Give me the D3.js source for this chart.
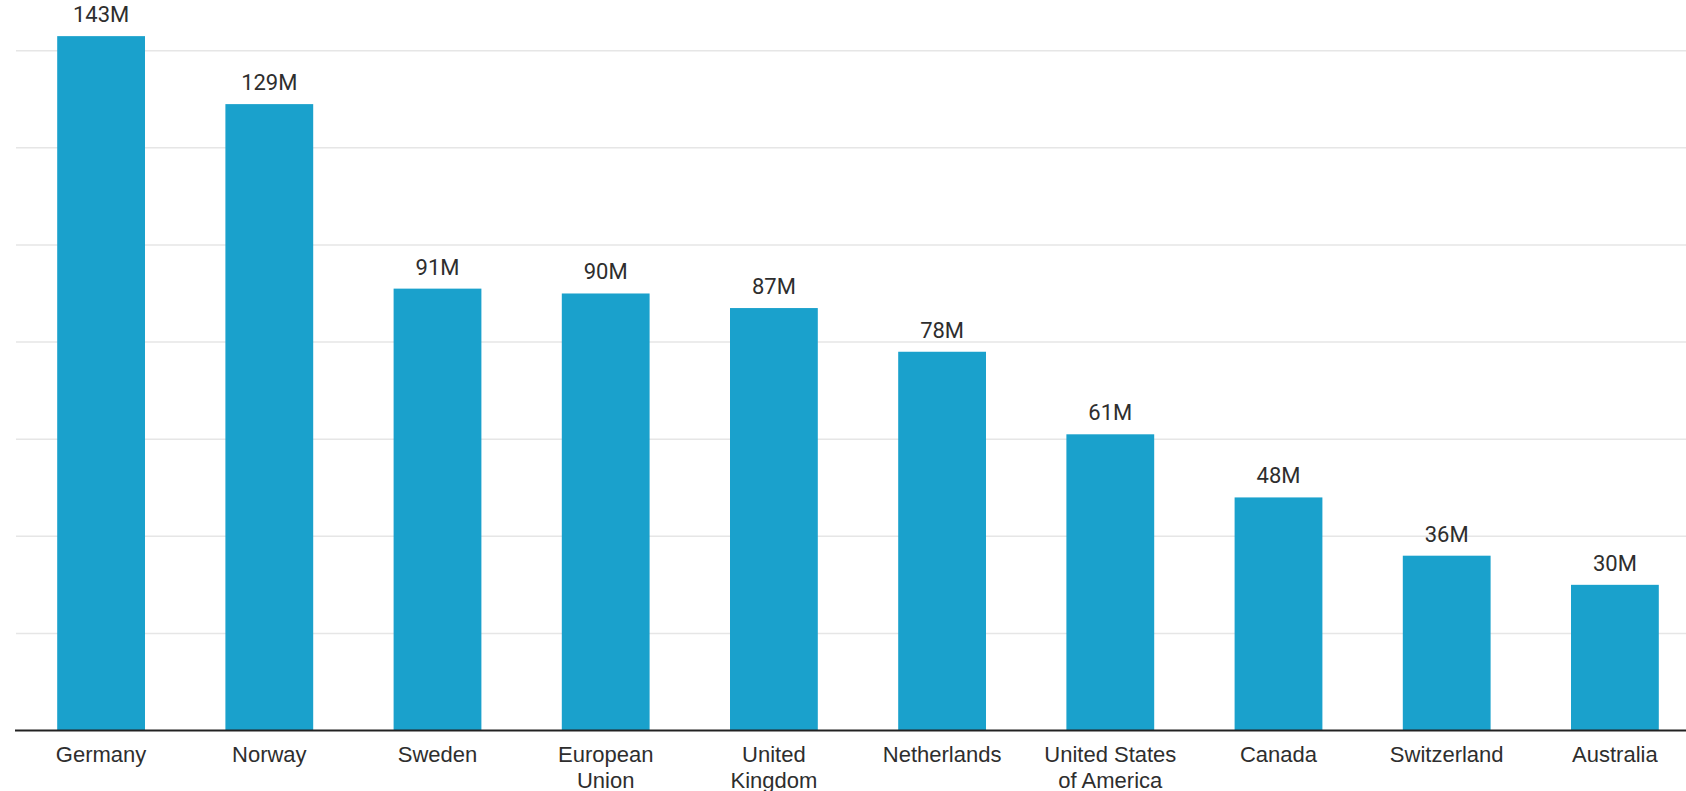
<!DOCTYPE html>
<html>
<head>
<meta charset="utf-8">
<script src="https://cdn.jsdelivr.net/npm/d3@7"></script>
<style>
    html, body { margin: 0; padding: 0; background: #fff; }
    svg { display: block; font-family: Roboto, "Noto Sans", sans-serif; }
</style>
</head>
<body>
<div id="chart"></div>
<script>
// Data
const countries = ["Germany", "Norway", "Sweden", "European Union", "United Kingdom",
    "Netherlands", "United States of America", "Canada", "Switzerland", "Australia"];
const tickLines = [["Germany"], ["Norway"], ["Sweden"], ["European", "Union"], ["United", "Kingdom"],
    ["Netherlands"], ["United States", "of America"], ["Canada"], ["Switzerland"], ["Australia"]];
const valuesM = [143, 129, 91, 90, 87, 78, 61, 48, 36, 30];
const gridTicks = [20, 40, 60, 80, 100, 120, 140];

const width = 1686;
const height = 791;
const baseline = 730.5;
const barColor = "#1aa1cc";
const textColor = "#2e2e2e";

const svg = d3.select("#chart").append("svg")
    .attr("width", width)
    .attr("height", height);

// Scales
const x = d3.scaleBand()
    .domain(countries)
    .range([17, 1699])
    .paddingInner(0.478)
    .paddingOuter(0.239);

const y = d3.scaleLinear()
    .domain([0, 140])
    .range([baseline, 50.7]);

// Gridlines
svg.append("g")
    .selectAll("line")
    .data(gridTicks)
    .enter().append("line")
    .attr("x1", 16)
    .attr("x2", width)
    .attr("y1", d => y(d))
    .attr("y2", d => y(d))
    .attr("stroke", "#e6e6e6")
    .attr("stroke-width", 1.5);

// Bars
svg.selectAll(".bar")
    .data(valuesM)
    .enter().append("rect")
    .attr("class", "bar")
    .attr("x", (d, i) => x(countries[i]))
    .attr("width", x.bandwidth())
    .attr("y", d => y(d))
    .attr("height", d => baseline - y(d))
    .attr("fill", barColor);

// Value labels
svg.selectAll(".value")
    .data(valuesM)
    .enter().append("text")
    .attr("class", "value")
    .attr("x", (d, i) => x(countries[i]) + x.bandwidth() / 2)
    .attr("y", d => y(d) - 14)
    .attr("text-anchor", "middle")
    .attr("font-size", 22)
    .attr("fill", textColor)
    .text(d => d + "M");

// X axis
const xAxis = svg.append("g")
    .attr("transform", `translate(0, ${baseline})`)
    .call(d3.axisBottom(x).tickSize(0).tickFormat(""));

xAxis.select(".domain")
    .attr("d", `M15,0H${width}`)
    .attr("stroke", "#222")
    .attr("stroke-width", 2);

xAxis.selectAll(".tick text").remove();

xAxis.selectAll(".tick").each(function(d, i) {
    const t = d3.select(this).append("text")
        .attr("text-anchor", "middle")
        .attr("font-size", 22)
        .attr("fill", textColor)
        .attr("y", 31);
    tickLines[i].forEach((line, j) => {
        t.append("tspan")
            .attr("x", 0)
            .attr("dy", j === 0 ? 0 : 26)
            .text(line);
    });
});
</script>
</body>
</html>
